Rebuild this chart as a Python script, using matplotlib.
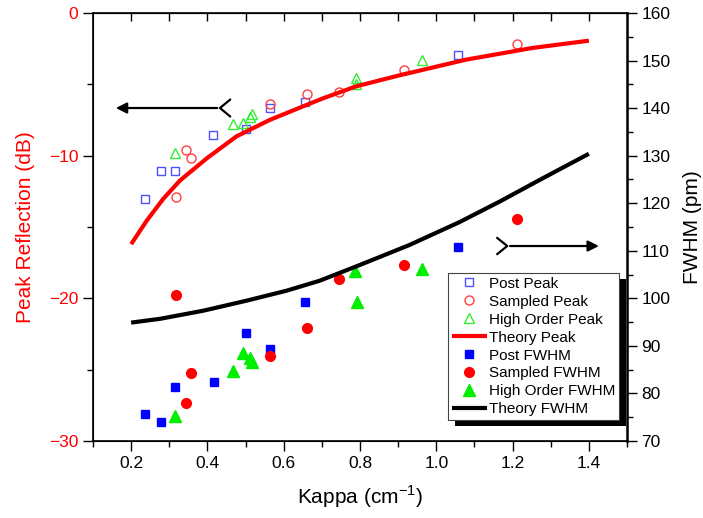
import numpy as np
import matplotlib
matplotlib.use('Agg')
import matplotlib.pyplot as plt
from matplotlib.ticker import MultipleLocator
from matplotlib.patches import Rectangle
from matplotlib.transforms import IdentityTransform

plt.rcParams['font.family'] = ['Liberation Sans', 'DejaVu Sans']

# 峰值反射 (dB) —— 左轴
post_peak_k = [0.237, 0.278, 0.314, 0.415, 0.501, 0.564, 0.656, 1.058]
post_peak_db = [-13.05, -11.04, -11.04, -8.56, -8.11, -6.67, -6.27, -2.97]

samp_peak_k = [0.318, 0.343, 0.356, 0.565, 0.661, 0.746, 0.916, 1.212]
samp_peak_db = [-12.9, -9.63, -10.17, -6.41, -5.71, -5.56, -3.97, -2.20]

ho_peak_k = [0.315, 0.468, 0.494, 0.511, 0.516, 0.790, 0.790, 0.962]
ho_peak_db = [-9.78, -7.76, -7.72, -7.30, -7.06, -4.53, -4.96, -3.32]

theory_peak_k = [0.2, 0.241, 0.284, 0.328, 0.40, 0.476, 0.563, 0.65, 0.703, 0.79, 0.903, 1.078, 1.252, 1.4]
theory_peak_db = [-16.2, -14.55, -13.03, -11.74, -10.15, -8.65, -7.5, -6.55, -5.98, -5.14, -4.37, -3.27, -2.45, -1.94]

# FWHM (pm) —— 右轴
post_fwhm_k = [0.237, 0.278, 0.314, 0.416, 0.501, 0.564, 0.656, 1.058]
post_fwhm = [75.7, 74.1, 81.4, 82.5, 92.8, 89.4, 99.3, 110.9]

samp_fwhm_k = [0.318, 0.343, 0.356, 0.565, 0.661, 0.746, 0.916, 1.212]
samp_fwhm = [100.6, 78.0, 84.4, 87.9, 93.8, 104.1, 107.1, 116.6]

ho_fwhm_k = [0.315, 0.468, 0.494, 0.511, 0.516, 0.787, 0.791, 0.963]
ho_fwhm = [75.2, 84.8, 88.5, 87.4, 86.7, 105.7, 99.2, 106.2]

theory_fwhm_k = [0.2, 0.276, 0.389, 0.502, 0.607, 0.694, 0.799, 0.929, 1.06, 1.165, 1.278, 1.4]
theory_fwhm = [94.9, 95.7, 97.4, 99.5, 101.6, 103.7, 107.0, 111.2, 116.0, 120.3, 125.2, 130.4]

fig = plt.figure(figsize=(7.03, 5.18), dpi=100)
ax1 = fig.add_axes([0.1323, 0.1486, 0.7596, 0.8263])
ax2 = ax1.twinx()

ax1.plot(post_peak_k, post_peak_db, 's', mfc='none', mec='#5050ff', ms=6, mew=1, label='Post Peak')
ax1.plot(samp_peak_k, samp_peak_db, 'o', mfc='none', mec='#ff4040', ms=6.5, mew=1, label='Sampled Peak')
ax1.plot(ho_peak_k, ho_peak_db, '^', mfc='none', mec='#33ee33', ms=7.5, mew=1, label='High Order Peak')
ax1.plot(theory_peak_k, theory_peak_db, '-', color='red', lw=3, solid_capstyle='butt', label='Theory Peak')

ax2.plot(post_fwhm_k, post_fwhm, 's', color='#0000ff', ms=6, label='Post FWHM')
ax2.plot(samp_fwhm_k, samp_fwhm, 'o', color='#ff0000', ms=7, label='Sampled FWHM')
ax2.plot(ho_fwhm_k, ho_fwhm, '^', color='#00ee00', ms=8, label='High Order FWHM')
ax2.plot(theory_fwhm_k, theory_fwhm, '-', color='black', lw=3, solid_capstyle='butt', label='Theory FWHM')

ax1.set_xlim(0.1, 1.5)
ax1.set_ylim(-30, 0)
ax2.set_ylim(70, 160)

ax1.xaxis.set_minor_locator(MultipleLocator(0.1))
ax1.set_xticks(np.arange(0.2, 1.41, 0.2))
ax1.yaxis.set_major_locator(MultipleLocator(10))
ax1.yaxis.set_minor_locator(MultipleLocator(5))
ax2.yaxis.set_major_locator(MultipleLocator(10))
ax2.yaxis.set_minor_locator(MultipleLocator(5))

ax1.tick_params(which='major', length=7, width=1, labelsize=12.5, direction='out')
ax1.tick_params(which='minor', length=4, width=1, direction='out')
ax1.tick_params(axis='y', which='both', color='black', labelcolor='red')
ax2.tick_params(which='major', length=7, width=1, labelsize=12.5, direction='out')
ax2.tick_params(which='minor', length=4, width=1, direction='out')

top = ax1.secondary_xaxis('top')
top.set_xticks(np.arange(0.2, 1.41, 0.1))
top.tick_params(direction='in', length=6, width=1, labeltop=False)

for sp in ax2.spines.values():
    sp.set_linewidth(1.2)
ax2.spines['right'].set_linewidth(1.8)

ax1.set_xlabel('Kappa (cm$^{\\mathregular{-1}}$)', fontsize=15, labelpad=9)
ax1.set_ylabel('Peak Reflection (dB)', fontsize=15, color='red', labelpad=10)
ax2.set_ylabel('FWHM (pm)', fontsize=15, labelpad=9)

# 箭头
ax2.annotate('', xy=(0.0375, 0.778), xytext=(0.2378, 0.778), xycoords='axes fraction',
             arrowprops=dict(arrowstyle='-|>', color='black', lw=1.6, mutation_scale=16))
ax2.plot([0.2566, 0.2378, 0.2566], [0.778 + 0.0195, 0.778, 0.778 - 0.0195],
         color='black', lw=1.6, transform=ax2.transAxes)
ax2.annotate('', xy=(0.9526, 0.4556), xytext=(0.7758, 0.4556), xycoords='axes fraction',
             arrowprops=dict(arrowstyle='-|>', color='black', lw=1.6, mutation_scale=16))
ax2.plot([0.7571, 0.7758, 0.7571], [0.4556 + 0.0187, 0.4556, 0.4556 - 0.0187],
         color='black', lw=1.6, transform=ax2.transAxes)

h1, l1 = ax1.get_legend_handles_labels()
h2, l2 = ax2.get_legend_handles_labels()
leg = ax2.legend(h1 + h2, l1 + l2, loc='upper right', bbox_to_anchor=(0.9856, 0.393),
                 fontsize=11, fancybox=False, framealpha=1, edgecolor='#444444',
                 handlelength=2.3, handletextpad=0.15, labelspacing=0.26,
                 borderpad=0.25, borderaxespad=0)
leg.get_frame().set_linewidth(0.8)
leg.set_zorder(6)

# 黑色阴影
fig.canvas.draw()
bb = leg.get_window_extent(fig.canvas.get_renderer())
shadow = Rectangle((bb.x0 + 7, bb.y0 - 6), bb.width, bb.height, facecolor='black',
                   edgecolor='none', transform=IdentityTransform(), zorder=5.5)
ax2.add_artist(shadow)

plt.savefig('out.png', dpi=100)
